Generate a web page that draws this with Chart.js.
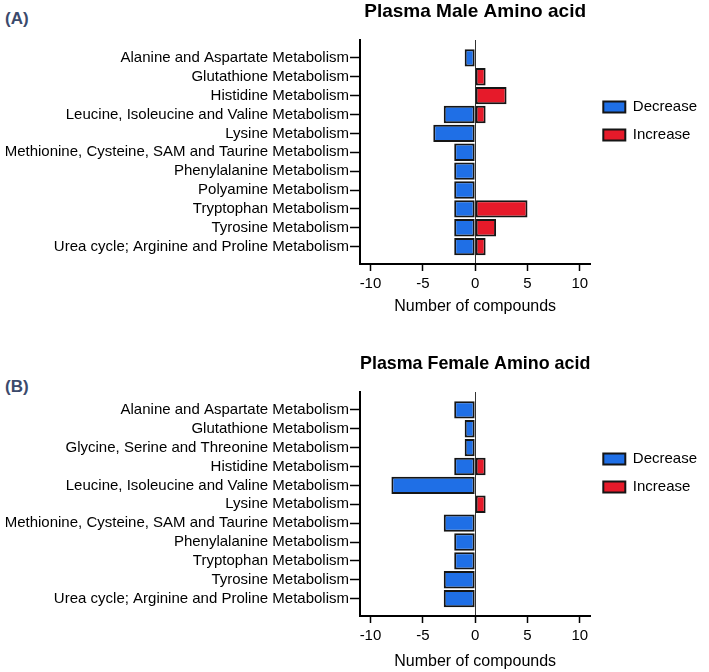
<!DOCTYPE html>
<html>
<head>
<meta charset="utf-8">
<script src="https://cdn.jsdelivr.net/npm/chart.js@4.4.1/dist/chart.umd.min.js"></script>
<style>
  html, body { margin: 0; padding: 0; overflow: hidden; background: #fff; }
  #wrap { position: relative; width: 709px; height: 672px; overflow: hidden; }
  canvas { position: absolute; left: 0; }
  .tag { position: absolute; left: 5px; font: bold 17px Arial, "Liberation Sans", sans-serif; color: #3b4a6b; line-height: 20px; }
</style>
</head>
<body>
<div id="wrap">
  <div class="tag" style="top:9px">(A)</div>
  <div class="tag" style="top:377px">(B)</div>
  <canvas id="chartA" width="709" height="336" style="top:0"></canvas>
  <canvas id="chartB" width="709" height="336" style="top:352px"></canvas>
</div>
<script>
// panel A - male
const maleCats = [
  'Alanine and Aspartate Metabolism',
  'Glutathione Metabolism',
  'Histidine Metabolism',
  'Leucine, Isoleucine and Valine Metabolism',
  'Lysine Metabolism',
  'Methionine, Cysteine, SAM and Taurine Metabolism',
  'Phenylalanine Metabolism',
  'Polyamine Metabolism',
  'Tryptophan Metabolism',
  'Tyrosine Metabolism',
  'Urea cycle; Arginine and Proline Metabolism'
]
const maleDecrease = [-1, 0, 0, -3, -4, -2, -2, -2, -2, -2, -2]
const maleIncrease = [0, 1, 3, 1, 0, 0, 0, 0, 5, 2, 1]

// panel B - female
const femaleCats = [
  'Alanine and Aspartate Metabolism',
  'Glutathione Metabolism',
  'Glycine, Serine and Threonine Metabolism',
  'Histidine Metabolism',
  'Leucine, Isoleucine and Valine Metabolism',
  'Lysine Metabolism',
  'Methionine, Cysteine, SAM and Taurine Metabolism',
  'Phenylalanine Metabolism',
  'Tryptophan Metabolism',
  'Tyrosine Metabolism',
  'Urea cycle; Arginine and Proline Metabolism'
]
const femaleDecrease = [-2, -1, -1, -2, -8, 0, -3, -2, -2, -3, -3]
const femaleIncrease = [0, 0, 0, 1, 0, 1, 0, 0, 0, 0, 0]

const xTicks = [-10, -5, 0, 5, 10]

Chart.defaults.font.family = 'Arial, "Liberation Sans", Helvetica, sans-serif'
Chart.defaults.color = '#000'

const blue = '#1f6fe6'
const red = '#e61a2a'

function toPoints(values) {
  // 0 means no bar
  return values.map(function(v, i) {
    return { x: v === 0 ? null : v, y: i }
  })
}

function makeChart(id, title, cats, dec, inc, axisTitlePad) {
  return new Chart(document.getElementById(id), {
    type: 'bar',
    data: {
      datasets: [
        { label: 'Decrease', data: toPoints(dec), backgroundColor: blue },
        { label: 'Increase', data: toPoints(inc), backgroundColor: red }
      ]
    },
    options: {
      indexAxis: 'y',
      responsive: false,
      animation: false,
      datasets: {
        bar: {
          grouped: false,
          borderColor: '#151515',
          borderWidth: 2,
          borderSkipped: false,
          categoryPercentage: 1,
          barPercentage: 0.92
        }
      },
      layout: { padding: { left: 0, right: 2, top: 0, bottom: 0 } },
      scales: {
        x: {
          type: 'linear',
          min: -11,
          max: 11,
          afterBuildTicks: function(scale) {
            scale.ticks = xTicks.map(function(v) { return { value: v } })
          },
          afterFit: function(scale) { scale.height = 72 },
          grid: {
            color: function(ctx) { return ctx.tick && ctx.tick.value === 0 ? '#333' : 'rgba(0,0,0,0)' },
            lineWidth: 1,
            tickColor: '#000',
            tickWidth: 1.5,
            tickLength: 7
          },
          border: { display: true, color: '#000', width: 2 },
          ticks: { font: { size: 15 }, color: '#000', padding: 4 },
          title: {
            display: true,
            text: 'Number of compounds',
            font: { size: 16 },
            color: '#000',
            padding: { top: 0, bottom: axisTitlePad }
          }
        },
        y: {
          type: 'linear',
          reverse: true,
          offset: false,
          min: -0.95,
          max: 10.92,
          afterBuildTicks: function(scale) {
            scale.ticks = cats.map(function(c, i) { return { value: i } })
          },
          afterFit: function(scale) { scale.width = 360 },
          grid: {
            offset: false,
            drawOnChartArea: false,
            tickColor: '#000',
            tickWidth: 1.5,
            tickLength: 10
          },
          border: { display: true, color: '#000', width: 2 },
          ticks: {
            autoSkip: false,
            font: { size: 15 },
            color: '#000',
            padding: 1,
            callback: function(v) { return cats[v] }
          }
        }
      },
      plugins: {
        title: {
          display: true,
          text: title,
          fullSize: false,
          font: { size: 19, weight: 'bold' },
          color: '#000',
          padding: { top: 0, bottom: 17.2 }
        },
        legend: {
          position: 'right',
          align: 'start',
          fullSize: false,
          title: { display: true, text: ' ', font: { size: 10 }, padding: { top: 34.5, bottom: 0 } },
          labels: {
            boxWidth: 22,
            boxHeight: 11,
            padding: 13,
            font: { size: 15 },
            color: '#000'
          }
        },
        tooltip: { enabled: false }
      }
    }
  })
}

makeChart('chartA', 'Plasma Male Amino acid', maleCats, maleDecrease, maleIncrease, 19.4)
makeChart('chartB', 'Plasma Female Amino acid', femaleCats, femaleDecrease, femaleIncrease, 16.4)
</script>
</body>
</html>
